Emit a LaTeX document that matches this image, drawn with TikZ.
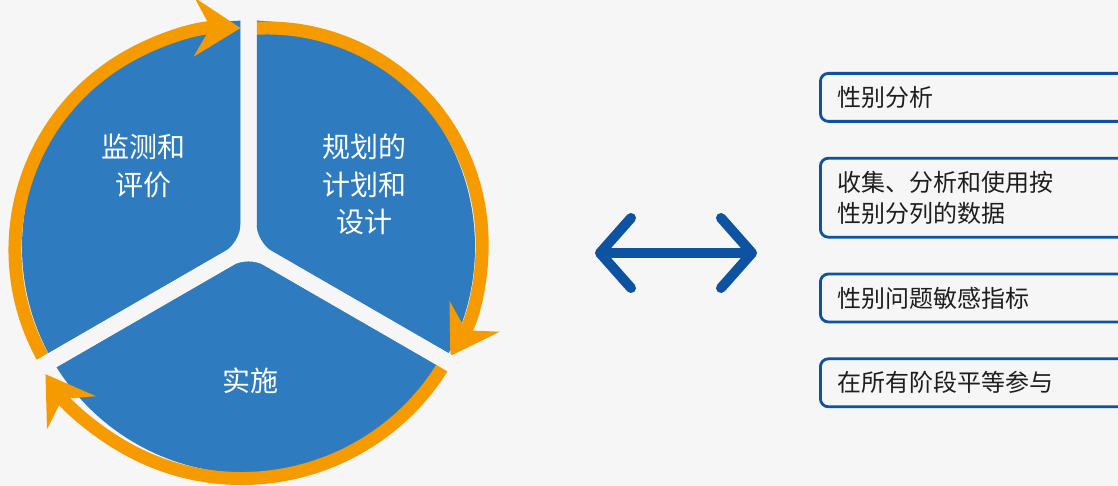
\documentclass[tikz,border=0pt]{standalone}
\usepackage{fontspec}
\setmainfont{Noto Sans CJK SC}
\usetikzlibrary{arrows.meta,positioning}
\definecolor{bg}{RGB}{246,246,246}
\definecolor{segblue}{RGB}{47,123,192}
\definecolor{arcorange}{RGB}{245,155,0}
\definecolor{darkblue}{RGB}{14,82,162}
\definecolor{boxtext}{RGB}{30,30,30}

\begin{document}
\begin{tikzpicture}[x=1pt,y=1pt,
    arcarrow/.style={draw=arcorange,line width=13pt,-{Stealth[length=46pt,width=58pt,inset=16pt]}},
    gap/.style={draw=bg,line width=16pt,rounded corners=22pt},
    seglabel/.style={text=white,align=center,font=\fontsize{28}{37.5}\selectfont},
    listbox/.style={draw=darkblue,line width=2.8pt,rounded corners=8pt,text width=287pt,
      inner xsep=17pt,inner ysep=0pt,align=left,text=boxtext,minimum height=48pt,
      font=\fontsize{24}{31}\selectfont}]
  \useasboundingbox[fill=bg] (0,0) rectangle (1118,486);

  % the cycle
  \coordinate (o) at (248.5,239);
  \fill[segblue] (o) circle (226.5);
  \draw[arcarrow] ([shift={(95:215.4)}]266.7,242.6) arc[start angle=95,end angle=-31.5,radius=215.4];
  \draw[arcarrow] ([shift={(-29:236.7)}]241.7,244.2) arc[start angle=-29,end angle=-146,radius=236.7];
  \draw[arcarrow] ([shift={(212:221.7)}]236.7,236.3) arc[start angle=212,end angle=89,radius=221.7];
  \draw[gap] ([shift={(90:262)}]o) -- (o) -- ([shift={(210:262)}]o);
  \draw[gap] ([shift={(90:262)}]o) -- (o) -- ([shift={(330:262)}]o);
  \draw[gap] ([shift={(210:262)}]o) -- (o) -- ([shift={(330:262)}]o);

  \node[seglabel] (eval) at (143,320) {监测和\\评价};
  \node[seglabel] (plan) at (364,301.5) {规划的\\计划和\\设计};
  \node[seglabel] (impl) at (250,105) {实施};

  % the list
  \node[listbox,anchor=north west] (b1) at (819,414) {性别分析};
  \node[listbox,minimum height=79pt,below=34pt of b1] (b2) {收集、分析和使用按\\性别分列的数据};
  \node[listbox,below=34pt of b2] (b3) {性别问题敏感指标};
  \node[listbox,below=34pt of b3] (b4) {在所有阶段平等参与};

  % both ways
  \coordinate (al) at (595,233);
  \coordinate (ar) at (757,233);
  \draw[darkblue,line width=10pt,{Straight Barb[length=31pt,width=70pt,round]}-{Straight Barb[length=31pt,width=70pt,round]}] (al) -- (ar);
\end{tikzpicture}
\end{document}
